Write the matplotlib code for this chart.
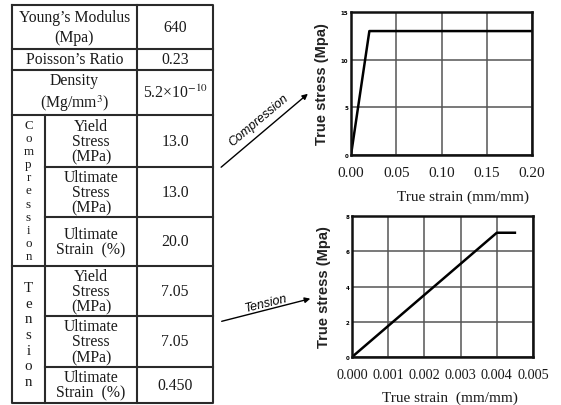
import matplotlib
matplotlib.use("Agg")
import matplotlib.pyplot as plt

plt.rcParams['mathtext.fontset'] = 'stix'

# ---------------- data ----------------
general_labels = ["Young’s Modulus\n(Mpa)", "Poisson’s Ratio", "Density\n(Mg/mm$^3$)"]
general_values = ["640", "0.23", "5.2×10$^{-10}$"]
group_names = ["Compression", "Tension"]
group_labels = ["Yield\nStress\n(MPa)", "Ultimate\nStress\n(MPa)", "Ultimate\nStrain  (%)"]
compression_values = ["13.0", "13.0", "20.0"]
tension_values = ["7.05", "7.05", "0.450"]

comp_strain = [0.0, 0.0203, 0.20]
comp_stress = [0.0, 13.0, 13.0]
tens_strain = [0.0, 0.0040, 0.0045]
tens_stress = [0.0, 7.05, 7.05]

comp_xticks = [0.00, 0.05, 0.10, 0.15, 0.20]
comp_yticks = [0, 5, 10, 15]
tens_xticks = [0.000, 0.001, 0.002, 0.003, 0.004, 0.005]
tens_yticks = [0, 2, 4, 6, 8]

# ---------------- figure ----------------
W, H = 561, 406
fig = plt.figure(figsize=(W / 100, H / 100), dpi=100)
fig.patch.set_facecolor("white")

ov = fig.add_axes([0, 0, 1, 1])
ov.set_xlim(0, W)
ov.set_ylim(H, 0)
ov.axis("off")

serif = "Liberation Serif"
tc = "#1a1a1a"
lc = "#2a2a2a"

# table geometry (pixels)
x0, x1, x2, x3 = 12, 45, 137, 213
rows = [6, 50, 71, 116, 168, 218, 267, 317, 368, 404]

lw = 1.5
ov.plot([x0, x3, x3, x0, x0], [rows[0], rows[0], rows[-1], rows[-1], rows[0]], color=lc, lw=lw)
ov.plot([x2, x2], [rows[0], rows[-1]], color=lc, lw=lw)
ov.plot([x1, x1], [rows[3], rows[-1]], color=lc, lw=lw)
for i, y in enumerate(rows[1:-1], start=1):
    if i in (4, 5, 7, 8):
        ov.plot([x1, x3], [y, y], color=lc, lw=lw)
    else:
        ov.plot([x0, x3], [y, y], color=lc, lw=lw)

fs = 11.3
for i, (lab, val) in enumerate(zip(general_labels, general_values)):
    yc = (rows[i] + rows[i + 1]) / 2
    ov.text((x0 + x2) / 2, yc, lab, ha="center", va="center", fontsize=fs,
            family=serif, color=tc, linespacing=1.3)
    ov.text((x2 + x3) / 2, yc, val, ha="center", va="center", fontsize=fs,
            family=serif, color=tc)

letter_fs = [9.4, 10.8]
letter_step = [13.1, 15.7]
for g, (name, vals) in enumerate(zip(group_names, [compression_values, tension_values])):
    r0 = 3 + 3 * g
    for j, (lab, val) in enumerate(zip(group_labels, vals)):
        yc = (rows[r0 + j] + rows[r0 + j + 1]) / 2
        ov.text((x1 + x2) / 2, yc, lab, ha="center", va="center", fontsize=fs,
                family=serif, color=tc, linespacing=0.95)
        ov.text((x2 + x3) / 2, yc, val, ha="center", va="center", fontsize=fs,
                family=serif, color=tc)
    top, bot = rows[r0], rows[r0 + 3]
    yc = (top + bot) / 2
    n = len(name)
    for k, ch in enumerate(name):
        y = yc + (k - (n - 1) / 2) * letter_step[g]
        ov.text((x0 + x1) / 2, y, ch, ha="center", va="center", fontsize=letter_fs[g],
                family=serif, color=tc)

# arrows and their labels
ov.annotate("", xy=(310, 93), xytext=(219, 170),
            arrowprops=dict(arrowstyle="-|>", color="black", lw=1.0, mutation_scale=8))
ov.text(259, 121, "Compression", rotation=40, ha="center", va="center",
        fontsize=9, style="italic", family="Liberation Sans", color="black")
ov.annotate("", xy=(313, 299), xytext=(219, 323),
            arrowprops=dict(arrowstyle="-|>", color="black", lw=1.0, mutation_scale=8))
ov.text(266, 304, "Tension", rotation=14, ha="center", va="center",
        fontsize=9, style="italic", family="Liberation Sans", color="black")


def make_axes(l, t, r, b):
    return fig.add_axes([l / W, 1 - b / H, (r - l) / W, (b - t) / H])


def style(ax, xticks, yticks, xfmt, xfs):
    ax.set_xticks(xticks)
    ax.set_yticks(yticks)
    ax.set_xticklabels([xfmt.format(v) for v in xticks], fontsize=xfs, family=serif, color=tc)
    ax.set_yticklabels([str(v) for v in yticks], fontsize=4, fontweight="bold")
    ax.tick_params(axis="x", length=0, pad=8)
    ax.tick_params(axis="y", length=0, pad=2)
    ax.grid(True, color="#555555", lw=1.1)
    ax.set_axisbelow(True)
    for s in ax.spines.values():
        s.set_linewidth(1.8)
        s.set_color("#111111")


# compression plot
ax1 = make_axes(351, 13, 532, 156)
ax1.plot(comp_strain, comp_stress, color="black", lw=1.8)
ax1.set_xlim(0, 0.20)
ax1.set_ylim(0, 15)
style(ax1, comp_xticks, comp_yticks, "{:.2f}", 11)
ax1.set_ylabel("True stress (Mpa)", fontsize=10.5, family="Liberation Sans",
               fontweight="bold", color="#222222", labelpad=8)
ov.text(463, 197, "True strain (mm/mm)", ha="center", va="center", fontsize=11,
        family=serif, color=tc)

# tension plot
ax2 = make_axes(352, 217, 533, 358)
ax2.plot(tens_strain, tens_stress, color="black", lw=1.8)
ax2.set_xlim(0, 0.005)
ax2.set_ylim(0, 8)
style(ax2, tens_xticks, tens_yticks, "{:.3f}", 10.3)
ax2.set_ylabel("True stress (Mpa)", fontsize=10.5, family="Liberation Sans",
               fontweight="bold", color="#222222", labelpad=10)
ov.text(450, 398, "True strain  (mm/mm)", ha="center", va="center", fontsize=11,
        family=serif, color=tc)

fig.savefig("out.png", dpi=100, facecolor="white")
